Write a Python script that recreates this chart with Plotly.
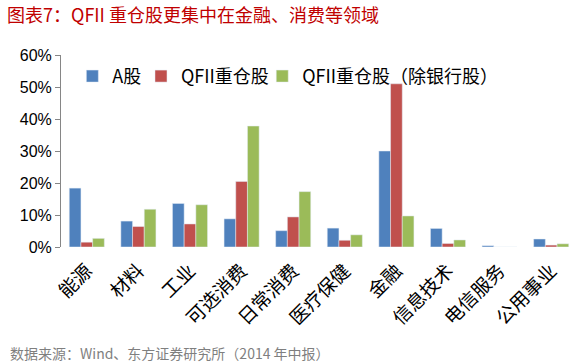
import plotly.graph_objects as go

categories = ["能源", "材料", "工业", "可选消费", "日常消费", "医疗保健", "金融", "信息技术", "电信服务", "公用事业"]
a_share = [0.184, 0.081, 0.136, 0.088, 0.051, 0.059, 0.300, 0.058, 0.004, 0.025]
qfii = [0.015, 0.064, 0.072, 0.205, 0.094, 0.021, 0.510, 0.011, 0.0, 0.006]
qfii_ex_bank = [0.027, 0.118, 0.132, 0.378, 0.173, 0.038, 0.097, 0.022, 0.0, 0.010]
y_ticks = [0, 0.1, 0.2, 0.3, 0.4, 0.5, 0.6]
y_tick_labels = ["0%", "10%", "20%", "30%", "40%", "50%", "60%"]

CJK = "Noto Sans CJK SC"

fig = go.Figure()
fig.add_bar(x=categories, y=a_share, name="A股", marker_color="#4F81BD", legend="legend")
fig.add_bar(x=categories, y=qfii, name="QFII重仓股", marker_color="#C0504D", legend="legend2")
fig.add_bar(x=categories, y=qfii_ex_bank, name="QFII重仓股（除银行股）", marker_color="#9BBB59", legend="legend3")

leg_common = dict(orientation="h", y=0.985, xanchor="left", yanchor="top",
                  font=dict(size=18, family=CJK), bgcolor="rgba(0,0,0,0)",
                  itemwidth=30)

fig.update_layout(
    width=588, height=364,
    margin=dict(l=61, r=11, t=55, b=117),
    paper_bgcolor="white", plot_bgcolor="white",
    barmode="group", bargap=0.32, bargroupgap=0,
    font=dict(family=CJK, color="#000000"),
    showlegend=True,
    legend=dict(x=0.022, **leg_common),
    legend2=dict(x=0.155, **leg_common),
    legend3=dict(x=0.390, **leg_common),
    title=dict(text="图表7：QFII 重仓股更集中在金融、消费等领域", x=0.012, xanchor="left",
               y=0.975, yanchor="top",
               font=dict(size=18, color="#C00000", family=CJK)),
    xaxis=dict(tickangle=-45, tickfont=dict(size=19, family=CJK), showline=False,
               ticks="", showgrid=False, ticklabelstandoff=8, automargin=False),
    yaxis=dict(range=[0, 0.6], tickvals=y_ticks, ticktext=y_tick_labels,
               showline=True, linecolor="#868686", linewidth=1, ticks="outside",
               ticklen=5, tickcolor="#868686", showgrid=False, zeroline=False,
               tickfont=dict(size=16, family="Liberation Sans"), automargin=False),
)

fig.add_annotation(text="数据来源：Wind、东方证券研究所（2014 年中报）", xref="paper", yref="paper",
                   x=-0.103, y=-0.615, xanchor="left", yanchor="bottom", showarrow=False,
                   font=dict(size=14, color="#7F7F7F", family=CJK))

fig.write_html("out.html", config={"displayModeBar": False},
               post_script="document.body.style.margin='0';")
